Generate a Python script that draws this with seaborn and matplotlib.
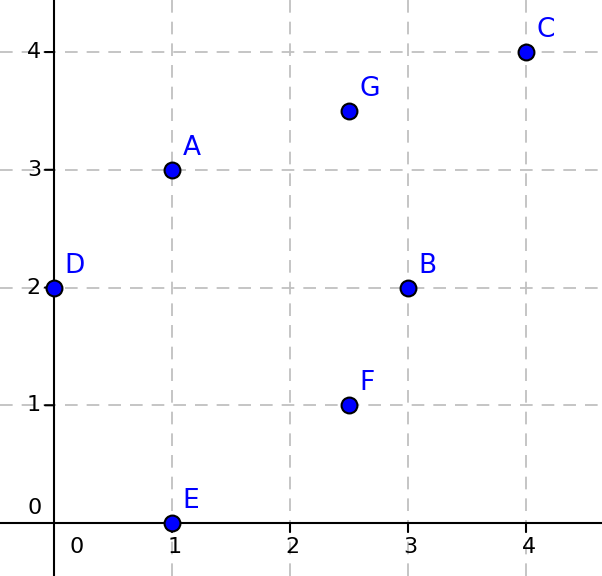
import matplotlib
matplotlib.use("Agg")
import matplotlib.pyplot as plt
import seaborn as sns
import pandas as pd

names = ["A", "B", "C", "D", "E", "F", "G"]
xs = [1, 3, 4, 0, 1, 2.5, 2.5]
ys = [3, 2, 4, 2, 0, 1, 3.5]
xticks = [0, 1, 2, 3, 4]
yticks = [0, 1, 2, 3, 4]

df = pd.DataFrame({"name": names, "x": xs, "y": ys})

sns.set_style("white")
plt.rcParams["font.family"] = ["DejaVu Sans"]

fig = plt.figure(figsize=(6.02, 5.76), dpi=100)
ax = fig.add_axes([0, 0, 1, 1])
ax.set_xlim(-0.4576, 4.644)
ax.set_ylim(-0.450, 4.442)
for s in ax.spines.values():
    s.set_visible(False)
ax.set_xticks([])
ax.set_yticks([])

grid_kw = dict(color="#c0c0c0", lw=1.3, dashes=(7, 5), zorder=1)
for t in xticks:
    if t != 0:
        ax.axvline(t, **grid_kw)
for t in yticks:
    if t != 0:
        ax.axhline(t, **grid_kw)

ax.axhline(0, color="black", lw=1.5, zorder=2)
ax.axvline(0, color="black", lw=1.5, zorder=2)

# tick marks
for t in yticks:
    if t != 0:
        ax.annotate("", xy=(0, t), xytext=(-6.5, 0), textcoords="offset points",
                    arrowprops=dict(arrowstyle="-", lw=1.5, color="black",
                                    shrinkA=0, shrinkB=0), zorder=2)
for t in xticks:
    if t != 0:
        ax.annotate("", xy=(t, 0), xytext=(0, -6.5), textcoords="offset points",
                    arrowprops=dict(arrowstyle="-", lw=1.5, color="black",
                                    shrinkA=0, shrinkB=0), zorder=2)

# tick labels
tick_fs = 16
for t in xticks:
    dx = 16.3 if t == 0 else 2
    ax.annotate(str(t), xy=(t, 0), xytext=(dx, -17), textcoords="offset points",
                ha="center", va="center", fontsize=tick_fs, color="black")
for t in yticks:
    if t == 0:
        ax.annotate("0", xy=(0, 0), xytext=(-13.7, 10.8), textcoords="offset points",
                    ha="center", va="center", fontsize=tick_fs, color="black")
    else:
        ax.annotate(str(t), xy=(0, t), xytext=(-9.4, 0), textcoords="offset points",
                    ha="right", va="center", fontsize=tick_fs, color="black")

sns.scatterplot(data=df, x="x", y="y", ax=ax, s=130, color="#0000ff",
                edgecolor="black", linewidth=1.5, zorder=5, legend=False)

for n, x, y in zip(names, xs, ys):
    ax.annotate(n, xy=(x, y), xytext=(7.5, 10.8), textcoords="offset points",
                ha="left", va="baseline", fontsize=19, color="#0000ff", zorder=6)

ax.set_xlabel("")
ax.set_ylabel("")
fig.savefig("out.png", dpi=100)
